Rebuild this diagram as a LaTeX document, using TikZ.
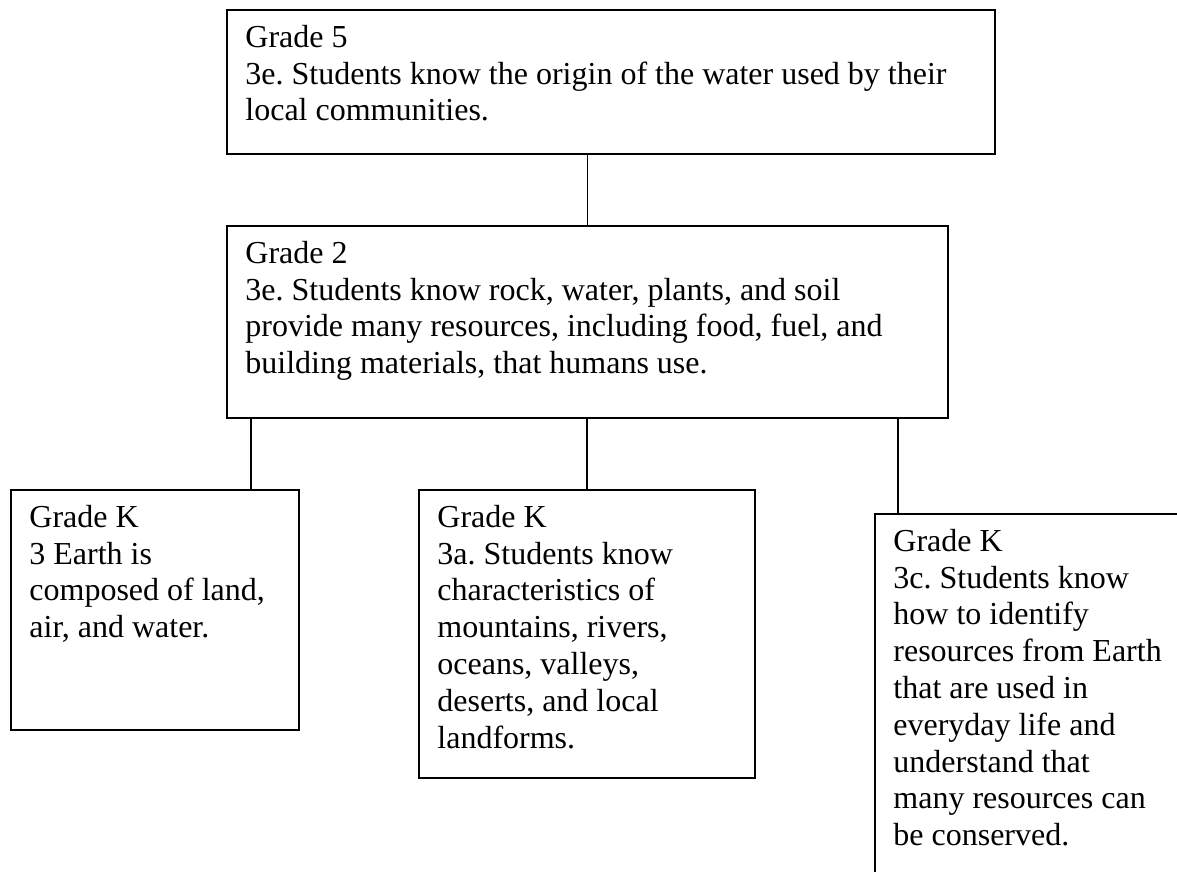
\documentclass[tikz,border=0pt]{standalone}
\usepackage{fontspec}
\setmainfont{Liberation Serif}
\frenchspacing
\begin{document}
\begin{tikzpicture}[x=1pt,y=-1pt,
  box/.style={draw=black, line width=1.8pt, rectangle, inner sep=0pt, anchor=north west},
  txt/.style={anchor=north west, inner sep=0pt, align=left,
    font=\fontsize{32}{36.8}\selectfont},
  link/.style={draw=black, line width=1.8pt}]
\useasboundingbox (0,0) rectangle (1177,871);
\clip (0,0) rectangle (1177,871);
\fill[white] (0,0) rectangle (1177,871);

% standard boxes
\node[box, minimum width=768pt, minimum height=144pt] (g5) at (226,9) {};
\node[box, minimum width=721pt, minimum height=192pt] (g2) at (226,225) {};
\node[box, minimum width=288pt, minimum height=240pt] (ka) at (10,489) {};
\node[box, minimum width=336pt, minimum height=288pt] (kb) at (418,489) {};
\node[box, minimum width=336pt, minimum height=400pt] (kc) at (874,513) {};

% box texts
\node[txt] (g5t) at ([shift={(19.2,9.6)}]g5.north west)
  {\rule{0pt}{28.5pt}Grade 5\\3e. Students know the origin of the water used by their\\local communities.};
\node[txt] (g2t) at ([shift={(19.2,9.6)}]g2.north west)
  {\rule{0pt}{28.5pt}Grade 2\\3e. Students know rock, water, plants, and soil\\provide many resources, including food, fuel, and\\building materials, that humans use.};
\node[txt] (kat) at ([shift={(19.2,9.6)}]ka.north west)
  {\rule{0pt}{28.5pt}Grade K\\3 Earth is\\composed of land,\\air, and water.};
\node[txt] (kbt) at ([shift={(19.2,9.6)}]kb.north west)
  {\rule{0pt}{28.5pt}Grade K\\3a. Students know\\characteristics of\\mountains, rivers,\\oceans, valleys,\\deserts, and local\\landforms.};
\node[txt] (kct) at ([shift={(19.2,9.6)}]kc.north west)
  {\rule{0pt}{28.5pt}Grade K\\3c. Students know\\how to identify\\resources from Earth\\that are used in\\everyday life and\\understand that\\many resources can\\be conserved.};

% connector columns
\coordinate (ca) at (251,0);
\coordinate (cc) at (898,0);

\draw[link] (g5.south -| g2.north) -- (g2.north);
\draw[link] (g2.south -| ca) -- (ka.north -| ca);
\draw[link] (g2.south -| kb.north) -- (kb.north);
\draw[link] (g2.south -| cc) -- (kc.north -| cc);
\end{tikzpicture}
\end{document}
